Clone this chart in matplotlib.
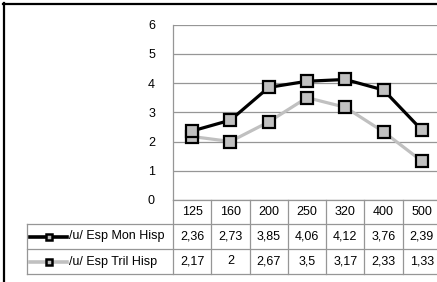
import matplotlib
matplotlib.use("Agg")
import matplotlib.pyplot as plt
from matplotlib.lines import Line2D

plt.rcParams["font.family"] = ["Liberation Sans", "DejaVu Sans"]

categories = ["125", "160", "200", "250", "320", "400", "500"]
mon_hisp = [2.36, 2.73, 3.85, 4.06, 4.12, 3.76, 2.39]
tril_hisp = [2.17, 2.0, 2.67, 3.5, 3.17, 2.33, 1.33]
series_names = ["/u/ Esp Mon Hisp", "/u/ Esp Tril Hisp"]
yticks = [0, 1, 2, 3, 4, 5, 6]

W, H = 437, 282
GRID = "#969696"
FILL = "#c0c0c0"
FS = 9


def fx(x):
    return x / W


def fy(y):
    return 1 - y / H


fig = plt.figure(figsize=(W / 100, H / 100), dpi=100)

# plot area (pixel layout)
left, right, top, bottom = 173, 441, 24.5, 200
ax = fig.add_axes([fx(left), fy(bottom), fx(right - left), fy(top) - fy(bottom)])
ax.set_xlim(-0.5, len(categories) - 0.5)
ax.set_ylim(0, 6)
ax.set_yticks(yticks)
ax.set_yticklabels([str(t) for t in yticks])
ax.set_xticks([])
ax.tick_params(axis="y", length=0, pad=13, labelsize=FS)
for s in ["top", "right", "bottom"]:
    ax.spines[s].set_visible(False)
ax.spines["left"].set_color(GRID)
ax.spines["left"].set_linewidth(0.9)
for t in yticks:
    ax.axhline(t, color=GRID, lw=0.9, zorder=0)

xs = range(len(categories))
ax.plot(xs, tril_hisp, color=FILL, lw=2.3, marker="s", ms=8.5,
        mfc=FILL, mec="black", mew=1.6, zorder=3)
ax.plot(xs, mon_hisp, color="black", lw=2.3, marker="s", ms=8.5,
        mfc=FILL, mec="black", mew=1.6, zorder=4)

# data table below the plot
rows_y = [200, 224, 249, 274]
col_w = (right - left) / len(categories)
tbl_left = 27


def hline(x0, x1, y, color=GRID, lw=0.9):
    fig.add_artist(Line2D([fx(x0), fx(x1)], [fy(y), fy(y)], color=color, lw=lw))


def vline(x, y0, y1, color=GRID, lw=0.9):
    fig.add_artist(Line2D([fx(x), fx(x)], [fy(y0), fy(y1)], color=color, lw=lw))


hline(left, right, rows_y[0])
for y in rows_y[1:]:
    hline(tbl_left, right, y)
vline(tbl_left, rows_y[1], rows_y[3])
for i in range(len(categories) + 1):
    vline(left + i * col_w, rows_y[0], rows_y[3])

for i, c in enumerate(categories):
    cx = left + (i + 0.5) * col_w
    fig.text(fx(cx), fy((rows_y[0] + rows_y[1]) / 2), c, ha="center",
             va="center", fontsize=FS)

line_colors = ["black", FILL]
for r, (name, vals) in enumerate(zip(series_names, [mon_hisp, tril_hisp])):
    cy = (rows_y[r + 1] + rows_y[r + 2]) / 2
    fig.add_artist(Line2D([fx(30), fx(67)], [fy(cy), fy(cy)],
                          color=line_colors[r], lw=2.6))
    fig.add_artist(Line2D([fx(48.5)], [fy(cy)], marker="s", ms=5, mfc=FILL,
                          mec="black", mew=1.8, lw=0))
    fig.text(fx(69), fy(cy), name, ha="left", va="center", fontsize=FS)
    for i, v in enumerate(vals):
        cx = left + (i + 0.5) * col_w
        fig.text(fx(cx), fy(cy), f"{v:g}".replace(".", ","), ha="center",
                 va="center", fontsize=FS)

# outer chart border (top and left visible)
hline(3, W, 3.5, color="black", lw=1.6)
vline(3.5, 3, H, color="black", lw=1.6)

fig.savefig("out.png", dpi=100)
